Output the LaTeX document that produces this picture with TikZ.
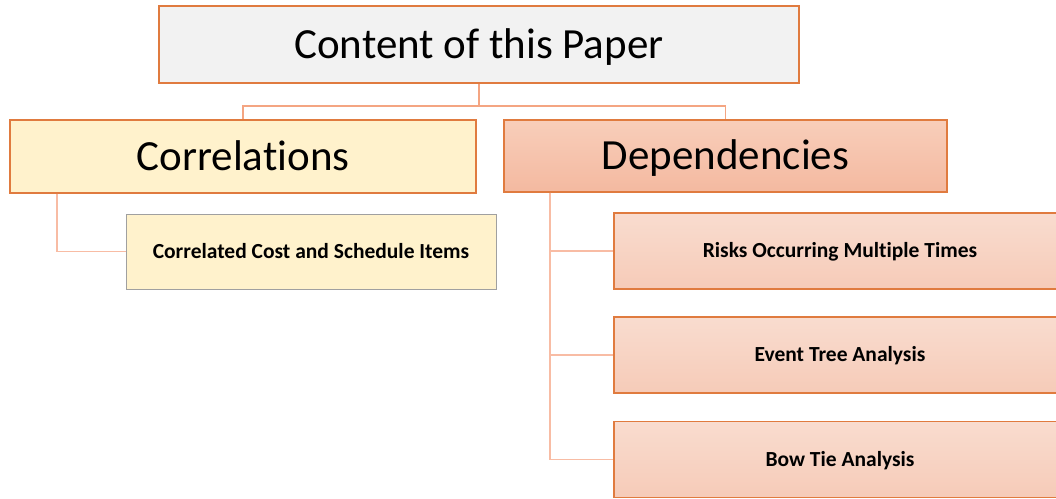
\documentclass[tikz,border=0pt]{standalone}
\usepackage{fontspec}
\setmainfont[Ligatures={NoCommon}]{Carlito}
\usetikzlibrary{shadows}
\definecolor{orb}{HTML}{E07B3F}
\definecolor{conn}{HTML}{F4A582}
\definecolor{connl}{HTML}{F8BCA4}
\tikzset{
  box/.style={draw=orb, line width=1.3pt, rectangle, inner sep=0pt,
    drop shadow={shadow xshift=0.8pt, shadow yshift=-0.8pt, opacity=0.5, fill=gray}},
  big/.style={font=\fontsize{43}{47}\selectfont, text height=30pt, text depth=3pt},
  small/.style={font=\bfseries\fontsize{21.5}{24}\selectfont, text height=14pt, text depth=0.4pt},
  link/.style={draw=conn, line width=1.3pt},
  linkl/.style={draw=connl, line width=1.3pt},
}
\begin{document}
\begin{tikzpicture}[x=1pt,y=-1pt]
\useasboundingbox (0,0) rectangle (1056,498);
\node[box, big, fill={rgb,255:red,242;green,242;blue,242}, minimum width=640pt, minimum height=77pt] (top) at (479,44.5) {Content of this Paper};
\node[box, big, fill={rgb,255:red,255;green,242;blue,204}, minimum width=466pt, minimum height=73pt] (corr) at (243,156.5) {Correlations};
\node[box, big, top color={rgb,255:red,248;green,206;blue,186}, bottom color={rgb,255:red,244;green,185;blue,160}, minimum width=443pt, minimum height=72pt] (dep) at (725.5,156) {Dependencies};
\node[box, small, draw={rgb,255:red,160;green,160;blue,160}, line width=0.8pt, fill={rgb,255:red,255;green,242;blue,204}, minimum width=370pt, minimum height=75pt] (cci) at (311,251.5) {Correlated Cost and Schedule Items};
\node[box, small, top color={rgb,255:red,249;green,220;blue,207}, bottom color={rgb,255:red,246;green,203;blue,184}, minimum width=452pt, minimum height=76pt] (risk) at (840,251) {Risks Occurring Multiple Times};
\node[box, small, top color={rgb,255:red,249;green,220;blue,207}, bottom color={rgb,255:red,246;green,203;blue,184}, minimum width=452pt, minimum height=76pt] (event) at (840,355) {Event Tree Analysis};
\node[box, small, top color={rgb,255:red,249;green,220;blue,207}, bottom color={rgb,255:red,246;green,203;blue,184}, minimum width=452pt, minimum height=76pt] (bow) at (840,459.5) {Bow Tie Analysis};
\coordinate (hj) at (479,106);
\draw[link] (top.south) -- (hj) -| (corr.north);
\draw[link] (hj) -| (dep.north);
\draw[linkl] (corr.south -| 57,0) |- (cci.west);
\draw[linkl] (dep.south -| 550,0) |- (risk.west);
\draw[linkl] (dep.south -| 550,0) |- (event.west);
\draw[linkl] (dep.south -| 550,0) |- (bow.west);
\end{tikzpicture}
\end{document}
